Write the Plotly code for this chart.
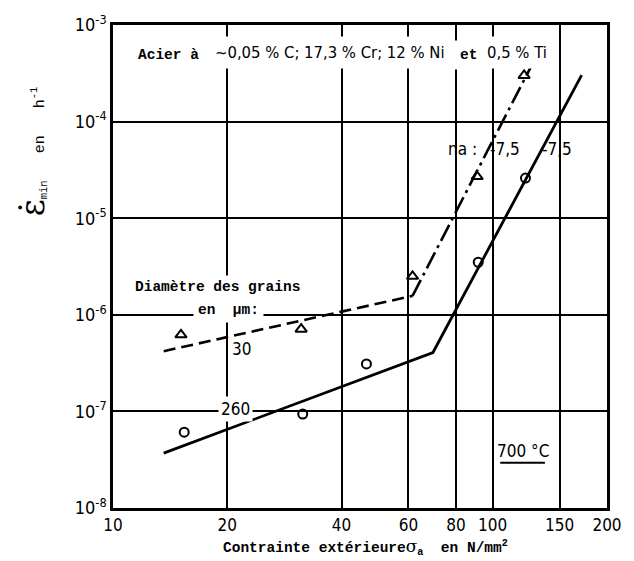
import math
import plotly.graph_objects as go

# Applied stress (N/mm^2) and minimum creep rate (1/h) at 700 °C
sigma_30 = [15.1, 31.3, 61.5, 91.0, 121.0]
rate_30 = [6.2e-7, 7.1e-7, 2.5e-6, 2.7e-5, 3.0e-4]
sigma_260 = [15.4, 31.6, 46.5, 91.6, 122.0]
rate_260 = [6.1e-8, 9.4e-8, 3.1e-7, 3.5e-6, 2.6e-5]

# Fitted lines: low-stress and power-law (n_a = 7.5) regimes
fit30_low_x = [13.6, 61.5]
fit30_low_y = [4.2e-7, 1.57e-6]
fit30_high_x = [61.5, 129.0]
fit30_high_y = [1.57e-6, 4.4e-4]
fit260_x = [13.6, 69.6, 171.5]
fit260_y = [3.7e-8, 4.07e-7, 3.03e-4]

x_ticks = [10, 20, 40, 60, 80, 100, 150, 200]
x_ticktext = ["10", "20", "40", "60", "80", "100", "150", "200"]
y_ticks = [1e-8, 1e-7, 1e-6, 1e-5, 1e-4, 1e-3]
y_ticktext = ["10<sup>-8</sup>", "10<sup>-7</sup>", "10<sup>-6</sup>",
              "10<sup>-5</sup>", "10<sup>-4</sup>", "10<sup>-3</sup>"]

W, H = 634, 561
L, R, T, B = 113, 12, 17, 53
PW, PH = W - L - R, H - T - B

MONO = "Liberation Mono, Courier New, monospace"
NARROW = "DejaVu Sans Condensed, Liberation Sans Narrow, Arial Narrow, sans-serif"


def px(x, y):
    """Pixel position inside the figure -> paper coordinates."""
    return (x - L) / PW, (H - B - y) / PH


fig = go.Figure()

fig.add_trace(go.Scatter(x=fit30_low_x, y=fit30_low_y, mode="lines",
                         line=dict(color="black", width=2.6, dash="12px,6px"),
                         hoverinfo="skip", showlegend=False))
fig.add_trace(go.Scatter(x=fit30_high_x, y=fit30_high_y, mode="lines",
                         line=dict(color="black", width=2.6, dash="18px,5px,3px,5px"),
                         hoverinfo="skip", showlegend=False))
fig.add_trace(go.Scatter(x=fit260_x, y=fit260_y, mode="lines",
                         line=dict(color="black", width=2.8),
                         hoverinfo="skip", showlegend=False))
fig.add_trace(go.Scatter(x=sigma_30, y=rate_30, mode="markers", name="30 µm",
                         marker=dict(symbol="triangle-up-open", size=10, color="black",
                                     line=dict(width=2)),
                         showlegend=False))
fig.add_trace(go.Scatter(x=sigma_260, y=rate_260, mode="markers", name="260 µm",
                         marker=dict(symbol="circle-open", size=9, color="black",
                                     line=dict(width=2)),
                         showlegend=False))

annotations = []


def label(text, x, y, font, size, anchor="left", bg=None, pad=1, bold=False):
    xp, yp = px(x, y)
    annotations.append(dict(
        text=f"<b>{text}</b>" if bold else text,
        x=xp, y=yp, xref="paper", yref="paper",
        xanchor=anchor, yanchor="middle", showarrow=False,
        font=dict(family=font, size=size, color="black"),
        bgcolor=bg, borderpad=pad))


label("Acier à", 132, 47, MONO, 14.5, bg="white", pad=6, bold=True)
label("~0,05 % C; 17,3 % Cr; 12 % Ni", 211, 45, NARROW, 16.5, bg="white", pad=6)
label("et", 463, 47, MONO, 14.5, bg="white", pad=6, bold=True)
label("0,5 % Ti", 491, 45, NARROW, 16.5, bg="white", pad=6)
label("Diamètre des grains", 132, 283, MONO, 14.5, bg="white", pad=3, bold=True)
label("en  µm:", 195, 307, MONO, 14.5, bg="white", pad=4, bold=True)
label("30", 234, 346, NARROW, 17)
label("260", 239, 407, NARROW, 17, anchor="center", bg="white", pad=2)
label("na :", 456, 143, NARROW, 17)
label("-7,5", 499, 143, NARROW, 17)
label("-7,5", 553, 143, NARROW, 17)
label("700 °C", 535, 450, NARROW, 17, anchor="center")

# Axis titles
label("<b>Contrainte extérieure</b>"
      "<span style='font-family:DejaVu Serif;font-size:17px'>σ</span><b><sub>a</sub>"
      "  en N/mm<sup>2</sup></b>", 224, 548, MONO, 14.5)
xt, yt = px(30, 145)
annotations.append(dict(
    text="<span style='font-family:DejaVu Serif;font-size:33px'>ε̇</span>"
         "<sub>min</sub>   en   h<sup>-1</sup>",
    x=xt, y=yt, xref="paper", yref="paper", textangle=-90,
    xanchor="center", yanchor="middle", showarrow=False,
    font=dict(family=MONO, size=15, color="black")))

ux0, uy = px(512, 462)
ux1, _ = px(558, 462)

fig.update_layout(
    width=W, height=H,
    margin=dict(l=L, r=R, t=T, b=B),
    paper_bgcolor="white", plot_bgcolor="white",
    annotations=annotations,
    shapes=[dict(type="line", xref="paper", yref="paper",
                 x0=ux0, x1=ux1, y0=uy, y1=uy,
                 line=dict(color="black", width=2))],
    xaxis=dict(type="log", range=[1, math.log10(200)],
               tickvals=x_ticks, ticktext=x_ticktext,
               showgrid=True, gridcolor="black", gridwidth=1.6,
               showline=True, linecolor="black", linewidth=2.5, mirror=True,
               ticks="", zeroline=False,
               tickfont=dict(family=NARROW, size=17, color="black")),
    yaxis=dict(type="log", range=[-8, -3],
               tickvals=y_ticks, ticktext=y_ticktext,
               showgrid=True, gridcolor="black", gridwidth=1.6,
               showline=True, linecolor="black", linewidth=2.5, mirror=True,
               ticks="", zeroline=False,
               tickfont=dict(family=NARROW, size=18, color="black")),
)

fig.write_html("out.html")
